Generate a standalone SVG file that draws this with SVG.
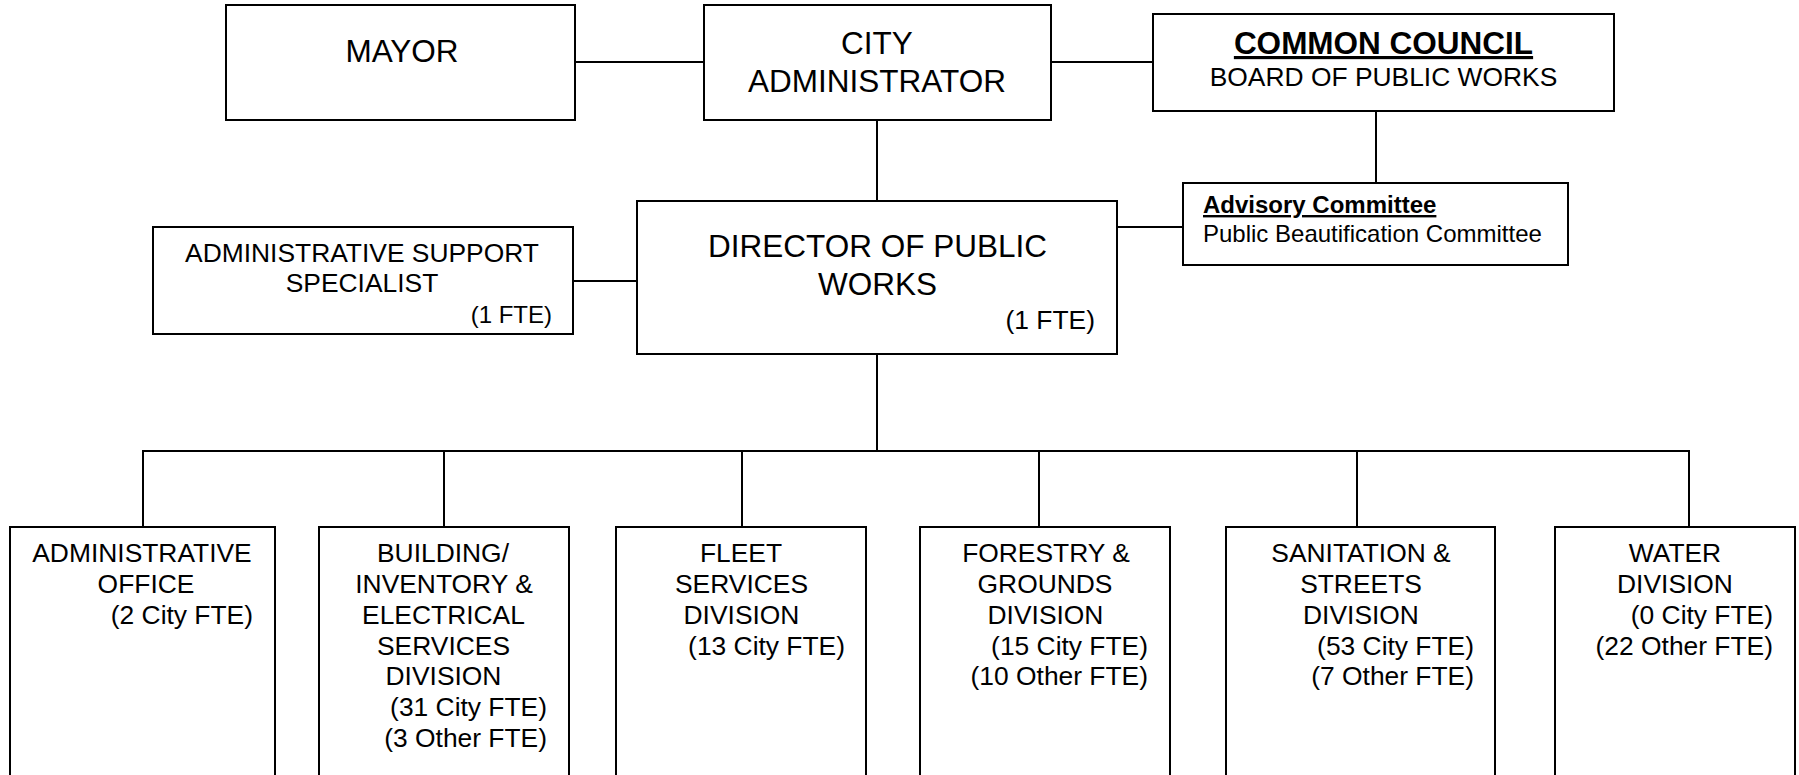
<svg xmlns="http://www.w3.org/2000/svg" width="1799" height="775" viewBox="0 0 1799 775">
<style>
.box{fill:#fff;stroke:#000;stroke-width:2}
.c{stroke:#000;stroke-width:2;fill:none}
text{font-family:"Liberation Sans",Arial,sans-serif;fill:#000}
.big{font-size:31.5px}
.med{font-size:26.4px}
.sm{font-size:24px}
.m{text-anchor:middle}
.e{text-anchor:end}
.b{font-weight:bold;text-decoration:underline}
</style>
<rect width="1799" height="775" fill="#fff"/>
<g id="connectors">
<line class="c" x1="575" y1="62" x2="704" y2="62"/>
<line class="c" x1="1051" y1="62" x2="1153" y2="62"/>
<line class="c" x1="877" y1="120" x2="877" y2="201"/>
<line class="c" x1="1376" y1="111" x2="1376" y2="183"/>
<line class="c" x1="1117" y1="227" x2="1183" y2="227"/>
<line class="c" x1="573" y1="281" x2="637" y2="281"/>
<line class="c" x1="877" y1="354" x2="877" y2="451"/>
<polyline class="c" points="143,527 143,451 1689,451 1689,527"/>
<line class="c" x1="444" y1="451" x2="444" y2="527"/>
<line class="c" x1="742" y1="451" x2="742" y2="527"/>
<line class="c" x1="1039" y1="451" x2="1039" y2="527"/>
<line class="c" x1="1357" y1="451" x2="1357" y2="527"/>
</g>
<g id="mayor">
<rect class="box" x="226" y="5" width="349" height="115"/>
<text class="big m" x="402" y="62">MAYOR</text>
</g>
<g id="city-administrator">
<rect class="box" x="704" y="5" width="347" height="115"/>
<text class="big m" x="877" y="54">CITY</text>
<text class="big m" x="877" y="92">ADMINISTRATOR</text>
</g>
<g id="common-council">
<rect class="box" x="1153" y="14" width="461" height="97"/>
<text class="big m b" x="1383.5" y="54">COMMON COUNCIL</text>
<text class="med m" x="1383.5" y="86">BOARD OF PUBLIC WORKS</text>
</g>
<g id="advisory-committee">
<rect class="box" x="1183" y="183" width="385" height="82"/>
<text class="sm b" x="1203" y="213">Advisory Committee</text>
<text class="sm" x="1203" y="242">Public Beautification Committee</text>
</g>
<g id="admin-support">
<rect class="box" x="153" y="227" width="420" height="107"/>
<text class="med m" x="362" y="262">ADMINISTRATIVE SUPPORT</text>
<text class="med m" x="362" y="292">SPECIALIST</text>
<text class="sm e" x="552" y="323">(1 FTE)</text>
</g>
<g id="director">
<rect class="box" x="637" y="201" width="480" height="153"/>
<text class="big m" x="877.5" y="257">DIRECTOR OF PUBLIC</text>
<text class="big m" x="877.5" y="295">WORKS</text>
<text class="med e" x="1095" y="329">(1 FTE)</text>
</g>
<g id="administrative-office">
<rect class="box" x="10" y="527" width="265" height="280"/>
<text class="med m" x="142" y="562">ADMINISTRATIVE</text>
<text class="med m" x="146" y="593">OFFICE</text>
<text class="med e" x="253" y="624">(2 City FTE)</text>
</g>
<g id="building-division">
<rect class="box" x="319" y="527" width="250" height="280"/>
<text class="med m" x="443" y="562">BUILDING/</text>
<text class="med m" x="444" y="593">INVENTORY &amp;</text>
<text class="med m" x="443.5" y="624">ELECTRICAL</text>
<text class="med m" x="443.5" y="655">SERVICES</text>
<text class="med m" x="443.5" y="685">DIVISION</text>
<text class="med e" x="547" y="716">(31 City FTE)</text>
<text class="med e" x="547" y="747">(3 Other FTE)</text>
</g>
<g id="fleet-division">
<rect class="box" x="616" y="527" width="250" height="280"/>
<text class="med m" x="741" y="562">FLEET</text>
<text class="med m" x="741.5" y="593">SERVICES</text>
<text class="med m" x="741.5" y="624">DIVISION</text>
<text class="med e" x="845" y="655">(13 City FTE)</text>
</g>
<g id="forestry-division">
<rect class="box" x="920" y="527" width="250" height="280"/>
<text class="med m" x="1046" y="562">FORESTRY &amp;</text>
<text class="med m" x="1045" y="593">GROUNDS</text>
<text class="med m" x="1045.5" y="624">DIVISION</text>
<text class="med e" x="1148" y="655">(15 City FTE)</text>
<text class="med e" x="1148" y="685">(10 Other FTE)</text>
</g>
<g id="sanitation-division">
<rect class="box" x="1226" y="527" width="269" height="280"/>
<text class="med m" x="1361" y="562">SANITATION &amp;</text>
<text class="med m" x="1361" y="593">STREETS</text>
<text class="med m" x="1361" y="624">DIVISION</text>
<text class="med e" x="1474" y="655">(53 City FTE)</text>
<text class="med e" x="1474" y="685">(7 Other FTE)</text>
</g>
<g id="water-division">
<rect class="box" x="1555" y="527" width="240" height="280"/>
<text class="med m" x="1675" y="562">WATER</text>
<text class="med m" x="1675" y="593">DIVISION</text>
<text class="med e" x="1773" y="624">(0 City FTE)</text>
<text class="med e" x="1773" y="655">(22 Other FTE)</text>
</g>
</svg>
